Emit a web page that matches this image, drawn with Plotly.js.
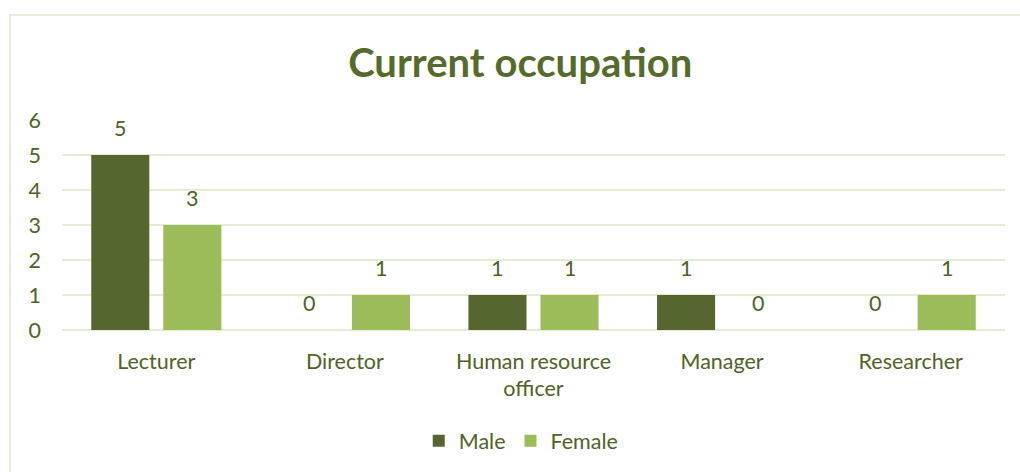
<!DOCTYPE html>
<html>
<head>
<meta charset="utf-8">
<script src="https://cdn.plot.ly/plotly-3.0.1.min.js"></script>
<style>
  html, body { margin: 0; padding: 0; background: #ffffff; overflow: hidden; }
  #frame { position: absolute; left: 9px; top: 14px; width: 1100px; height: 600px; border: 2px solid #E6EDD9; box-sizing: border-box; }
  #chart { position: absolute; left: 0; top: 0; width: 1020px; height: 472px; }
</style>
</head>
<body>
<div id="frame"></div>
<div id="chart"></div>
<script>
const categories = ["Lecturer", "Director", "Human resource<br>officer", "Manager", "Researcher"];
const maleValues = [5, 0, 1, 1, 0];
const femaleValues = [3, 1, 1, 0, 1];
const yTicks = [0, 1, 2, 3, 4, 5, 6];

const textColor = "#4F6228";
const fontFamily = "Lato, 'Open Sans', sans-serif";
const fs = 21.5;
const bargap = 0.236;
const off = (1 - bargap) / 4;

const male = {
  type: "bar", name: "Male", x: categories, y: maleValues,
  marker: { color: "#55672F" }, hoverinfo: "none"
};
const female = {
  type: "bar", name: "Female", x: categories, y: femaleValues,
  marker: { color: "#9CBC5A" }, hoverinfo: "none"
};

const annotations = [];
categories.forEach((c, i) => {
  annotations.push({ x: i - off, y: maleValues[i], xref: "x", yref: "y", text: String(maleValues[i]),
    showarrow: false, yanchor: "bottom", yshift: 12, font: { size: fs, color: textColor, family: fontFamily } });
  annotations.push({ x: i + off, y: femaleValues[i], xref: "x", yref: "y", text: String(femaleValues[i]),
    showarrow: false, yanchor: "bottom", yshift: 12, font: { size: fs, color: textColor, family: fontFamily } });
});

const layout = {
  width: 1020, height: 472,
  paper_bgcolor: "rgba(0,0,0,0)", plot_bgcolor: "rgba(0,0,0,0)",
  margin: { l: 62, r: 15, t: 120, b: 141 },
  title: { text: "<b>Current occupation</b>", x: 0.51, xanchor: "center", y: 0.866, yanchor: "middle",
    font: { size: 40, color: "#546B2C", family: fontFamily } },
  barmode: "group", bargap: bargap, bargroupgap: 0.194,
  font: { family: fontFamily, color: textColor, size: fs },
  xaxis: { type: "category", showgrid: false, zeroline: false, showline: false, ticks: "",
    tickfont: { size: fs, color: textColor }, ticklabelstandoff: 16, fixedrange: true },
  yaxis: { range: [0, 6], tickvals: yTicks, ticktext: yTicks.map(String), showgrid: true,
    gridcolor: "#E4ECD5", gridwidth: 2, zeroline: true, zerolinecolor: "#E4ECD5", zerolinewidth: 2,
    showline: false, ticks: "", tickfont: { size: fs, color: textColor }, ticklabelstandoff: 20, fixedrange: true },
  showlegend: true,
  legend: { orientation: "h", x: 0.487, xanchor: "center", y: -0.52, yanchor: "middle",
    font: { size: fs, color: textColor }, itemwidth: 30, traceorder: "normal" },
  annotations: annotations
};

Plotly.newPlot("chart", [male, female], layout, { displayModeBar: false, staticPlot: true });
</script>
</body>
</html>
